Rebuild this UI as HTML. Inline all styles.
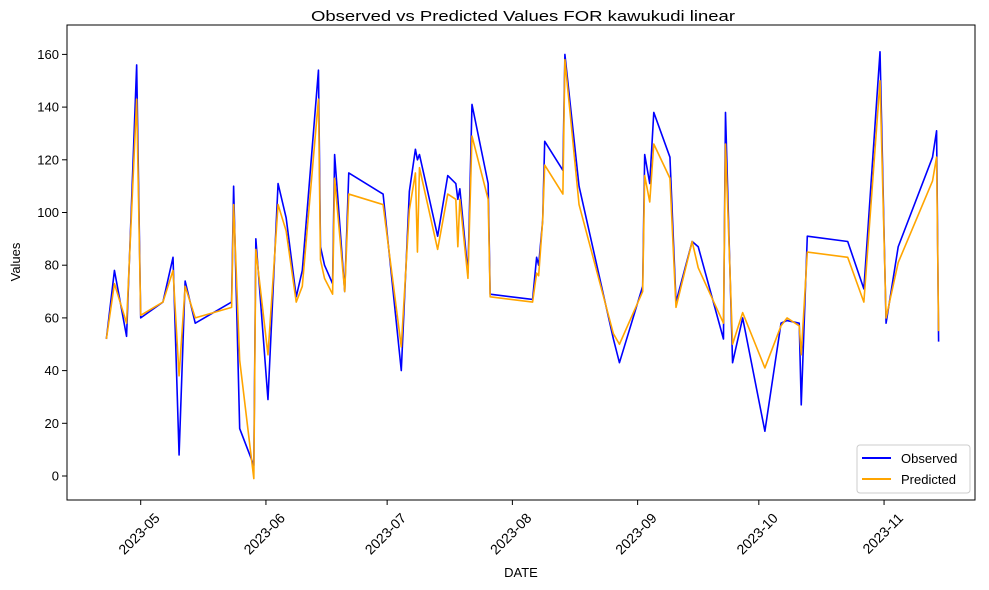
<!DOCTYPE html>
<html><head><meta charset="utf-8">
<style>
html,body{margin:0;padding:0;background:#fff;}
svg{display:block;font-family:"Liberation Sans","DejaVu Sans",sans-serif;}
</style></head>
<body>
<svg id="chart" width="989" height="590" viewBox="0 0 989 590" xmlns="http://www.w3.org/2000/svg">
<rect x="0" y="0" width="989" height="590" fill="#fff"/>
<text x="311" y="21" textLength="424" lengthAdjust="spacingAndGlyphs" font-size="15" fill="#000">Observed vs Predicted Values FOR kawukudi linear</text>
<text x="0" y="0" transform="translate(20,262) rotate(-90)" text-anchor="middle" font-size="13" fill="#000">Values</text>
<text x="521" y="577" text-anchor="middle" font-size="13" fill="#000">DATE</text>
<g id="series"></g>
<rect x="67" y="25" width="908" height="475" fill="none" stroke="#000" stroke-width="1"/>
<g id="axes"></g>
<g>
<rect x="857" y="445" width="113" height="48" rx="3" fill="#fff" fill-opacity="0.8" stroke="#ccc"/>
<line x1="862" y1="458" x2="891" y2="458" stroke="#0000ff" stroke-width="2"/>
<text x="901" y="463" font-size="13">Observed</text>
<line x1="862" y1="479" x2="891" y2="479" stroke="#ffa500" stroke-width="2"/>
<text x="901" y="484" font-size="13">Predicted</text>
</g>
</svg>
<script>
const dates = ["2023-04-22T12:00","2023-04-24T12:00","2023-04-27T12:00","2023-04-30","2023-05-01","2023-05-06T12:00","2023-05-09","2023-05-10T12:00","2023-05-12","2023-05-14T12:00","2023-05-23T12:00","2023-05-24","2023-05-25T12:00","2023-05-29","2023-05-29T12:00","2023-06-01T12:00","2023-06-04","2023-06-06","2023-06-08T12:00","2023-06-10","2023-06-14","2023-06-14T12:00","2023-06-15T12:00","2023-06-17T12:00","2023-06-18","2023-06-20T12:00","2023-06-21T12:00","2023-06-30","2023-07-04T12:00","2023-07-06T12:00","2023-07-08","2023-07-08T12:00","2023-07-09","2023-07-13T12:00","2023-07-16","2023-07-18","2023-07-18T12:00","2023-07-19","2023-07-21","2023-07-22","2023-07-26","2023-07-26T12:00","2023-08-06","2023-08-07","2023-08-07T12:00","2023-08-08T12:00","2023-08-09","2023-08-13T12:00","2023-08-14","2023-08-17T12:00","2023-08-26","2023-08-27T12:00","2023-09-02T06:00","2023-09-02T18:00","2023-09-04","2023-09-05","2023-09-09","2023-09-10T12:00","2023-09-14T12:00","2023-09-16","2023-09-22T06:00","2023-09-22T18:00","2023-09-24T12:00","2023-09-27","2023-10-02T12:00","2023-10-06T12:00","2023-10-08","2023-10-11","2023-10-11T12:00","2023-10-13","2023-10-23","2023-10-27","2023-10-31","2023-11-01T12:00","2023-11-04T12:00","2023-11-13","2023-11-14","2023-11-14T12:00"];
const observed = [52,78,53,156,60,66,83,8,74,58,66,110,18,4,90,29,111,98,68,78,154,87,80,73,122,70,115,107,40,108,124,120,122,91,114,111,105,109,77,141,111,69,67,83,80,97,127,116,160,110,52,43,72,122,111,138,121,66,89,87,52,138,43,60,17,58,59,58,27,91,89,71,161,58,87,121,131,51];
const predicted = [52,73,58,143,61,66,78,38,72,60,64,103,44,-1,86,46,103,93,66,72,143,82,75,69,113,70,107,103,49,101,115,85,117,86,107,105,87,105,75,129,105,68,66,77,76,97,118,107,158,103,54,50,70,114,104,126,113,64,89,79,58,126,50,62,41,57,60,57,46,85,83,66,150,60,81,112,121,55];
const yTicks = [0,20,40,60,80,100,120,140,160];
const xTickLabels = ["2023-05","2023-06","2023-07","2023-08","2023-09","2023-10","2023-11"];

const NS = "http://www.w3.org/2000/svg";
const base = Date.UTC(2023,4,1);
function dayOf(s){const full = s.length===10 ? s+"T00:00" : s;return (Date.parse(full+":00Z")-base)/86400000;}
function xScale(s){return 140.7 + dayOf(s)*4.04;}
function yScale(v){return 476 - v*2.635;}
function mk(tag, attrs, parent){const e=document.createElementNS(NS,tag);for(const k in attrs)e.setAttribute(k,attrs[k]);parent.appendChild(e);return e;}

const axes = document.getElementById('axes');
yTicks.forEach(v=>{
  const y=yScale(v);
  const t=mk('line',{x1:62,y1:y,x2:67,y2:y,stroke:'#000','stroke-width':1},axes);
  
  
  const l=mk('text',{x:59,y:y+4.5,'text-anchor':'end','font-size':13},axes);
  l.textContent=v;
  
  
});
xTickLabels.forEach(s=>{
  const x=xScale(s+"-01");
  const t=mk('line',{x1:x,y1:500,x2:x,y2:505,stroke:'#000','stroke-width':1},axes);
  
  
  const l=mk('text',{x:0,y:0,'text-anchor':'end','font-size':14,transform:'translate('+(x+20)+',519) rotate(-45)'},axes);
  l.textContent=s;
  
  
});

const series = document.getElementById('series');
function path(vals,color,name){
  const d=vals.map((v,i)=>(i?'L':'M')+xScale(dates[i]).toFixed(2)+','+yScale(v).toFixed(2)).join(' ');
  const p=mk('path',{d:d,fill:'none',stroke:color,'stroke-width':1.6,'stroke-linejoin':'round'},series);
  
  
}
path(observed,'#0000ff','observed-line');
path(predicted,'#ffa500','predicted-line');
</script>
</body></html>
